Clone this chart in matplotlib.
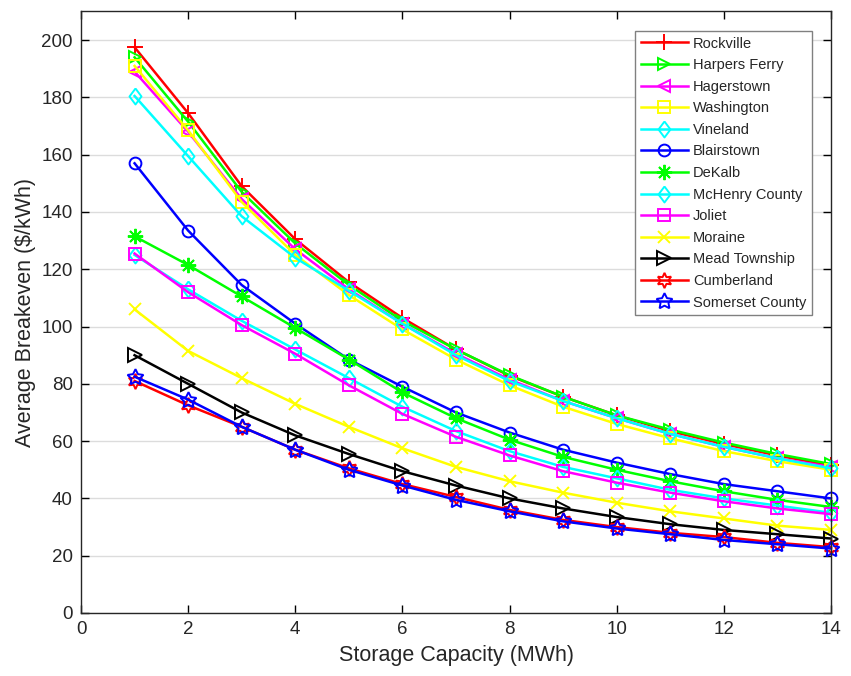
import numpy as np
import matplotlib
matplotlib.use('Agg')
import matplotlib.pyplot as plt

plt.rcParams['font.family'] = ['Liberation Sans', 'DejaVu Sans']

capacity = [1, 2, 3, 4, 5, 6, 7, 8, 9, 10, 11, 12, 13, 14]

sites = ['Rockville', 'Harpers Ferry', 'Hagerstown', 'Washington', 'Vineland',
         'Blairstown', 'DeKalb', 'McHenry County', 'Joliet', 'Moraine',
         'Mead Township', 'Cumberland', 'Somerset County']

rockville = [197.5, 174.5, 149, 130.5, 115.5, 103, 92, 82.8, 75.5, 69, 63.5, 59, 55, 51.5]
harpers_ferry = [194, 171.5, 147, 129, 114.5, 102, 92, 83, 75.5, 69, 64, 59.5, 55.5, 52]
hagerstown = [189, 168, 144.5, 127, 113, 101, 90.5, 81.5, 74, 68, 62.5, 58, 54, 51]
washington = [191, 168.5, 143.5, 125, 111, 99, 88.5, 79.5, 72, 66, 61, 56.5, 53, 50]
vineland = [180.5, 159.5, 138.5, 124, 112.5, 101, 90, 81, 74, 68, 62.5, 58, 54, 50.5]
blairstown = [157, 133.5, 114.5, 101, 88.5, 79, 70, 63, 57, 52.5, 48.5, 45, 42.5, 40]
dekalb = [131.5, 121.5, 110.5, 99.5, 88.5, 77, 68, 60.5, 54.5, 50, 46, 42.5, 39.5, 37]
mchenry = [125, 113, 102, 92, 82, 72, 63.5, 56.5, 51, 47, 43, 40, 37.5, 35]
joliet = [125.5, 112, 100.5, 90.5, 79.5, 69.5, 61.5, 55, 49.5, 45.5, 42, 39, 36.5, 34.5]
moraine = [106, 91.5, 82, 73, 65, 57.5, 51, 46, 42, 38.5, 35.5, 33, 30.5, 29]
mead = [90, 80, 70, 62, 55.5, 49.5, 44.5, 40, 36.5, 33.5, 31, 29, 27.5, 26]
cumberland = [81, 72.5, 65, 57, 50.5, 45, 40.5, 36, 32.5, 30, 28, 26.5, 24.5, 23]
somerset = [82.5, 74.5, 65, 57, 50, 44.5, 39.5, 35.5, 32, 29.5, 27.5, 25.5, 24, 22.5]

series = [rockville, harpers_ferry, hagerstown, washington, vineland, blairstown,
          dekalb, mchenry, joliet, moraine, mead, cumberland, somerset]

colores = ['#ff0000', '#00ff00', '#ff00ff', '#ffff00', '#00ffff', '#0000ff',
           '#00ff00', '#00ffff', '#ff00ff', '#ffff00', '#000000', '#ff0000', '#0000ff']

# rombo un poco alargado, como el de MATLAB
rombo = [(0, 1), (0.75, 0), (0, -1), (-0.75, 0), (0, 1)]
# + > < s d o * d s x > hexagram pentagram
marcadores = ['+', '>', '<', 's', rombo, 'o', (8, 2, 0), rombo, 's', 'x', '>',
              (6, 1, 0), (5, 1, 0)]
tamanos = [11, 9, 9, 8, 11.5, 8.5, 11, 11.5, 8, 9, 9.5, 11, 12]

fig = plt.figure(figsize=(8.51, 6.76), dpi=100)
ax = fig.add_axes([0.0952, 0.0932, 0.8813, 0.8898])

for nombre, y, c, m, ms in zip(sites, series, colores, marcadores, tamanos):
    ax.plot(capacity, y, color=c, marker=m, markersize=ms, markerfacecolor='none',
            markeredgecolor=c, markeredgewidth=1.4, linewidth=1.8, label=nombre,
            clip_on=False)

ax.set_xlim(0, 14)
ax.set_ylim(0, 210)
ax.set_xticks(range(0, 15, 2))
ax.set_yticks(range(0, 201, 20))
ax.yaxis.grid(True, color='#dcdcdc', linewidth=1)
ax.set_axisbelow(True)
ax.tick_params(direction='in', top=True, right=True, length=6, width=1,
               labelsize=13.5, labelcolor='#262626', pad=6)
for s in ax.spines.values():
    s.set_color('#262626')
    s.set_linewidth(1)

ax.set_xlabel('Storage Capacity (MWh)', fontsize=15.5, color='#262626', labelpad=5)
ax.set_ylabel('Average Breakeven ($/kWh)', fontsize=15.5, color='#262626', labelpad=4)

leg = ax.legend(loc='upper right', bbox_to_anchor=(0.9747, 0.968), fontsize=10.5,
                handlelength=3.2, handletextpad=0.35, labelspacing=0.52,
                borderpad=0.4, fancybox=False, framealpha=1, borderaxespad=0)
leg.get_frame().set_edgecolor('#808080')
leg.get_frame().set_linewidth(1)
for t in leg.get_texts():
    t.set_color('#262626')

plt.savefig('out.png', dpi=100)
